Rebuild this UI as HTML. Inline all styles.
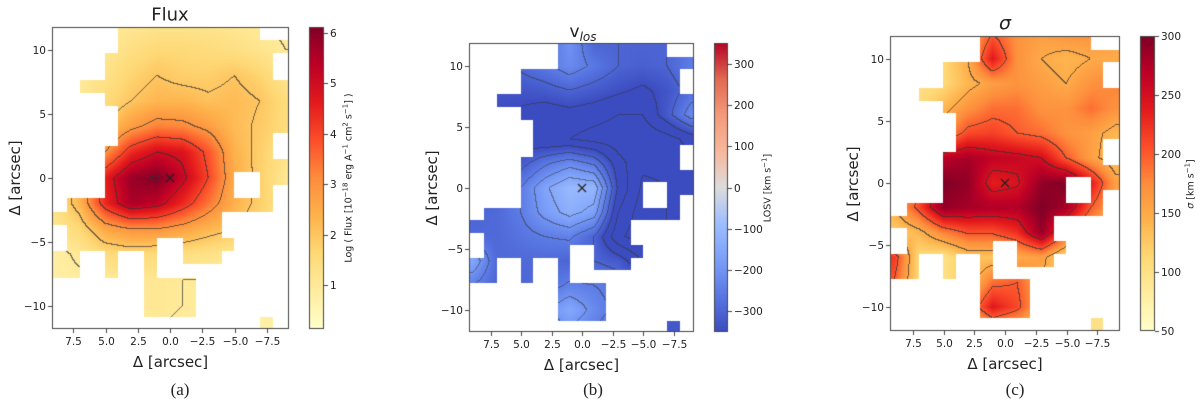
<!DOCTYPE html>
<html><head><meta charset="utf-8"><style>
body{margin:0;background:#fff;width:1200px;height:405px;overflow:hidden;position:relative;font-family:"DejaVu Sans","Liberation Sans",sans-serif;}
canvas{position:absolute;left:0;top:0}
.t{position:absolute;white-space:nowrap;color:#222}
</style></head><body>
<canvas id="cv" width="1200" height="405"></canvas>
<div id="txt"></div>
<script>
// ---- data ----
const gridX = [9,7,5,3,1,-1,-3,-5,-7,-9];
const gridY = [12,10,8,6,4,2,0,-2,-4,-6,-8,-10,-12];
const fluxValues = [
[0.8,0.9,1.0,1.1,1.2,1.2,1.2,1.1,1.0,0.9],
[0.8,0.9,1.1,1.4,1.6,1.6,1.5,1.4,1.2,1.0],
[0.8,1.0,1.3,1.7,2.0,1.8,1.8,2.0,1.7,1.2],
[0.9,1.1,1.5,2.0,2.3,2.3,2.1,2.2,2.0,1.5],
[1.0,1.4,2.0,2.8,3.3,3.2,2.8,2.2,1.9,1.5],
[1.1,1.7,3.0,4.4,5.0,4.8,3.8,2.4,1.8,1.3],
[1.3,2.4,4.6,5.8,6.1,5.2,4.0,2.5,1.8,1.1],
[1.3,2.3,4.4,5.6,5.3,4.4,3.4,2.4,1.8,1.2],
[1.1,1.6,2.6,3.0,3.0,2.7,2.3,2.0,1.6,1.2],
[0.8,1.1,1.5,1.6,1.5,1.4,1.3,1.1,1.0,0.9],
[0.8,0.9,1.0,1.1,1.1,1.0,1.0,0.9,0.9,0.8],
[0.8,0.9,0.9,1.0,1.1,1.0,0.9,0.8,0.8,0.8],
[0.8,0.8,0.9,0.9,1.0,0.9,0.8,0.8,0.8,0.8]];
const vlosValues = [
[-300,-300,-300,-280,-200,-300,-300,-300,-300,-260],
[-300,-300,-290,-260,-220,-260,-300,-310,-300,-250],
[-320,-330,-330,-320,-300,-320,-340,-360,-330,-280],
[-340,-350,-360,-380,-370,-380,-400,-400,-320,-220],
[-340,-360,-380,-400,-400,-420,-430,-440,-420,-380],
[-330,-340,-320,-260,-220,-260,-380,-440,-440,-420],
[-320,-310,-250,-160,-100,-110,-360,-460,-450,-440],
[-300,-290,-250,-180,-130,-170,-400,-480,-450,-440],
[-290,-290,-270,-250,-240,-300,-440,-480,-450,-440],
[-150,-290,-290,-290,-300,-300,-320,-400,-420,-420],
[-250,-300,-300,-280,-240,-250,-270,-300,-320,-320],
[-300,-300,-300,-210,-150,-220,-270,-300,-320,-320],
[-300,-300,-300,-260,-220,-260,-300,-320,-330,-330]];
const sigmaValues = [
[120,120,130,150,200,170,160,170,170,160],
[100,100,110,150,240,170,150,140,150,150],
[100,100,110,140,160,170,160,150,170,180],
[110,110,140,170,190,190,170,170,190,170],
[120,130,170,210,215,200,190,170,160,140],
[140,160,270,280,265,260,250,200,160,130],
[150,190,300,290,235,245,290,300,240,160],
[150,210,290,280,275,275,300,280,200,150],
[120,140,180,205,205,225,290,200,150,130],
[220,110,100,130,130,150,160,110,100,100],
[200,110,100,130,190,200,150,110,100,100],
[120,110,100,170,240,210,150,110,100,100],
[100,100,100,120,150,140,110,100,100,100]];
const maskBase = [
".......#########..",".......###########","....#############.","....#############.",
"..################","....##############",".....#############",".....#############",
".....############.","....#############.","....##############","....##########..##",
"....##########..#.",".################.","#############.....",".############.....",
".#######..####....","##..#..#..###.....","##..#..#..........",".......####.......",
".......####.......",".......####.......","................#."];
const maskA = [".....###########..",".....#############"].concat(maskBase.slice(2));
const xTicks = [7.5,5.0,2.5,0.0,-2.5,-5.0,-7.5];
const yTicks = [10,5,0,-5,-10];
const fluxTicks = [1,2,3,4,5,6];
const vlosTicks = [-300,-200,-100,0,100,200,300];
const sigmaTicks = [50,100,150,200,250,300];
const fluxLevels = [1,2,3,4,5,6];
const vlosLevels = [-450,-400,-350,-300,-250,-200,-150,-100];
const sigmaLevels = [100,150,200,250];

const ylorrd=["#ffffcc","#ffeda0","#fed976","#feb24c","#fd8d3c","#fc4e2a","#e31a1c","#bd0026","#800026"];
const coolwarm=["#3b4cc0","#5977e3","#7b9ff9","#9ebeff","#dddcdc","#f7b89c","#f49a7b","#e26952","#b40426"];
function hex(h){return [parseInt(h.substr(1,2),16),parseInt(h.substr(3,2),16),parseInt(h.substr(5,2),16)];}
function cmap(stops,t){t=Math.max(0,Math.min(1,t));const n=stops.length-1;let i=Math.min(n-1,Math.floor(t*n));const f=t*n-i;const a=hex(stops[i]),b=hex(stops[i+1]);return [0,1,2].map(k=>Math.round(a[k]+(b[k]-a[k])*f));}
function interp(vals,x,y){
  let fx=(gridX[0]-x)/2, fy=(gridY[0]-y)/2;
  fx=Math.max(0,Math.min(gridX.length-1.001,fx)); fy=Math.max(0,Math.min(gridY.length-1.001,fy));
  const i=Math.floor(fx),j=Math.floor(fy),u=fx-i,v=fy-j;
  return vals[j][i]*(1-u)*(1-v)+vals[j][i+1]*u*(1-v)+vals[j+1][i]*(1-u)*v+vals[j+1][i+1]*u*v;
}
const cv=document.getElementById('cv'),ctx=cv.getContext('2d');
const txt=document.getElementById('txt');
function label(s,x,y,size,opts){
  const d=document.createElement('div');d.className='t';d.innerHTML=s;
  d.style.fontSize=size+'px';d.style.left=x+'px';d.style.top=y+'px';
  let tr='translate(-50%,-50%)';if(opts&&opts.rot)tr+=' rotate(-90deg)';
  if(opts&&opts.left)tr='translate(0,-50%)';
  if(opts&&opts.right)tr='translate(-100%,-50%)';
  if(opts&&opts.font)d.style.fontFamily=opts.font;
  d.style.transform=tr;
  
  
  txt.appendChild(d);return d;
}
function panel(P){
  const sx=x=>P.x0-x*P.s, sy=y=>P.y0-y*P.sy;
  const ix=px=>(P.x0-px)/P.s, iy=py=>(P.y0-py)/P.sy;
  const edges=[P.T];for(let k=1;k<=22;k++)edges.push(sy(10.8-1.03*(k-1)));edges.push(P.B);
  const W=P.R-P.L,H=P.B-P.T;
  const vals=new Float32Array(W*H),inm=new Uint8Array(W*H);
  for(let py=P.T;py<P.B;py++){
    let row=0;while(row<22&&py>=edges[row+1])row++;
    for(let px=P.L;px<P.R;px++){
      const xv=ix(px+0.5);let col=Math.floor(9-xv);col=Math.max(0,Math.min(17,col));
      const k=(py-P.T)*W+(px-P.L);
      inm[k]=P.mask[row][col]==='#'?1:0;
      vals[k]=interp(P.vals,xv,iy(py+0.5));
    }
  }
  const lev=v=>{let c=0;for(const l of P.levels)if(v>=l)c++;return c;};
  const img=ctx.createImageData(W,H);
  for(let y=0;y<H;y++)for(let x=0;x<W;x++){
    const k=y*W+x,o=k*4;
    if(!inm[k]){img.data[o]=255;img.data[o+1]=255;img.data[o+2]=255;img.data[o+3]=255;continue;}
    let c=cmap(P.cm,(vals[k]-P.vmin)/(P.vmax-P.vmin));
    const L=lev(vals[k]);
    let edge=false;
    if(x+1<W&&inm[k+1]&&lev(vals[k+1])!==L)edge=true;
    if(y+1<H&&inm[k+W]&&lev(vals[k+W])!==L)edge=true;
    if(edge){const a=P.ca;c=c.map(v=>Math.round(v*(1-a)+50*a));}
    img.data[o]=c[0];img.data[o+1]=c[1];img.data[o+2]=c[2];img.data[o+3]=255;
  }
  ctx.putImageData(img,P.L,P.T);
  ctx.strokeStyle='#222';ctx.lineWidth=1.2;ctx.beginPath();
  ctx.moveTo(sx(0)-4,sy(0)-4);ctx.lineTo(sx(0)+4,sy(0)+4);ctx.moveTo(sx(0)+4,sy(0)-4);ctx.lineTo(sx(0)-4,sy(0)+4);ctx.stroke();
  ctx.strokeStyle='#444';ctx.lineWidth=1;ctx.strokeRect(P.L+0.5,P.T+0.5,W-1,H-1);
  ctx.beginPath();
  xTicks.forEach(t=>{const X=Math.round(sx(t))+0.5;ctx.moveTo(X,P.B);ctx.lineTo(X,P.B+4);
    label(t.toFixed(1).replace('-','−'),X,P.B+13,10.5,{name:'x-tick-label'});});
  yTicks.forEach(t=>{const Y=Math.round(sy(t))+0.5;ctx.moveTo(P.L,Y);ctx.lineTo(P.L-4,Y);
    label(String(t).replace('-','−'),P.L-6,Y,10.5,{right:1,name:'y-tick-label'});});
  ctx.stroke();
  label('Δ [arcsec]',(P.L+P.R)/2,P.B+33,15,{name:'x-axis-title'});
  label('Δ [arcsec]',P.L-37,(P.T+P.B)/2,15,{rot:1,name:'y-axis-title'});
  label(P.title,P.tx,P.ty,P.tsize,{name:'panel-title',font:P.tfont});
  label(P.cap,P.tx+10,390,17,{name:'panel-caption',font:'"Liberation Serif",serif'});
  const cb=P.cb;
  for(let py=cb.T;py<cb.B;py++){const t=1-(py-cb.T+0.5)/(cb.B-cb.T);const c=cmap(P.cm,t);
    ctx.fillStyle='rgb('+c.join(',')+')';ctx.fillRect(cb.L,py,cb.R-cb.L,1);}
  ctx.strokeStyle='#444';ctx.strokeRect(cb.L+0.5,cb.T+0.5,cb.R-cb.L-1,cb.B-cb.T-1);
  ctx.beginPath();
  P.ticks.forEach(t=>{const Y=Math.round(cb.B-(t-P.vmin)/(P.vmax-P.vmin)*(cb.B-cb.T))+0.5;
    ctx.moveTo(cb.R,Y);ctx.lineTo(cb.R+4,Y);
    label(String(t).replace('-','−'),cb.R+6,Y,10.5,{left:1,name:'colorbar-tick-label'});});
  ctx.stroke();
  label(P.cbl,P.cblx,(cb.T+cb.B)/2,9.5,{rot:1,name:'colorbar-title'});
}
panel({L:52,R:289,T:27,B:329,x0:170,s:12.9,y0:178,sy:12.8,mask:maskA,vals:fluxValues,cm:ylorrd,vmin:0.13,vmax:6.12,levels:fluxLevels,ca:0.7,
  title:'Flux',tx:170,ty:15,tsize:18,cap:'(a)',cb:{L:309,R:324,T:27,B:329},ticks:fluxTicks,
  cbl:'Log ( Flux [10<sup style="font-size:7px">−18</sup> erg A<sup style="font-size:7px">−1</sup> cm<sup style="font-size:7px">2</sup> s<sup style="font-size:7px">−1</sup>] )',cblx:348});
panel({L:469,R:694,T:43,B:332,x0:582,s:12.2,y0:188,sy:12.2,mask:maskBase,vals:vlosValues,cm:coolwarm,vmin:-350,vmax:350,levels:vlosLevels,ca:0.5,
  title:'v<sub style="font-size:12px;font-style:italic">los</sub>',tx:583,ty:33,tsize:17,cap:'(b)',cb:{L:714,R:728,T:43,B:332},ticks:vlosTicks,
  cbl:'LOSV [km s<sup style="font-size:7px">−1</sup>]',cblx:767});
panel({L:890,R:1120,T:36,B:331,x0:1005,s:12.3,y0:183,sy:12.4,mask:maskBase,vals:sigmaValues,cm:ylorrd,vmin:50,vmax:300,levels:sigmaLevels,ca:0.7,
  title:'<i>σ</i>',tx:1005,ty:23,tsize:19,cap:'(c)',cb:{L:1140,R:1155,T:36,B:331},ticks:sigmaTicks,
  cbl:'<i>σ</i> [km s<sup style="font-size:7px">−1</sup>]',cblx:1190});
</script>
</body></html>
